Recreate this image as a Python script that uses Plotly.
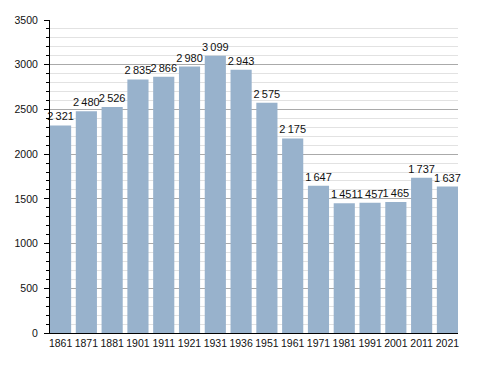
import plotly.graph_objects as go

years = ["1861", "1871", "1881", "1901", "1911", "1921", "1931", "1936",
         "1951", "1961", "1971", "1981", "1991", "2001", "2011", "2021"]
population = [2321, 2480, 2526, 2835, 2866, 2980, 3099, 2943,
              2575, 2175, 1647, 1451, 1457, 1465, 1737, 1637]

labels = [f"{v:,}".replace(",", "\u2009") for v in population]

bargap = 0.18
fig = go.Figure(go.Bar(
    x=years, y=population, text=labels, textposition="outside",
    cliponaxis=False, constraintext="none",
    marker=dict(color="#98b2cc", line=dict(width=0)),
    textfont=dict(family="Liberation Sans, Arial, sans-serif", size=11, color="#111"),
    hoverinfo="skip",
))

# page body has an 8px default margin, so the figure is offset by 8px
fig.update_layout(
    width=480, height=365,
    margin=dict(l=42, r=30, t=12, b=40),
    paper_bgcolor="white", plot_bgcolor="white",
    bargap=bargap,
    showlegend=False,
    font=dict(family="Liberation Sans, Arial, sans-serif", size=11, color="#111"),
)
fig.update_xaxes(
    type="category", automargin=False, tickangle=0,
    range=[-0.5 + bargap / 2, len(years) - 0.5 - bargap / 2],
    showline=True, linecolor="black", linewidth=1,
    ticks="", showgrid=False, zeroline=False,
    tickfont=dict(size=10.5),
)
fig.update_yaxes(
    range=[0, 3500], dtick=500, tick0=0, automargin=False,
    showline=True, linecolor="black", linewidth=1,
    ticks="outside", ticklen=5, tickcolor="black", tickwidth=1,
    ticklabelstandoff=4,
    showgrid=True, gridcolor="#aaaaaa", gridwidth=1,
    zeroline=False,
    tickfont=dict(size=10.5),
    minor=dict(dtick=100, tick0=0, showgrid=True, gridcolor="#e2e2e2",
               gridwidth=1, ticks="outside", ticklen=3, tickcolor="black"),
)

fig.write_html("out.html")
